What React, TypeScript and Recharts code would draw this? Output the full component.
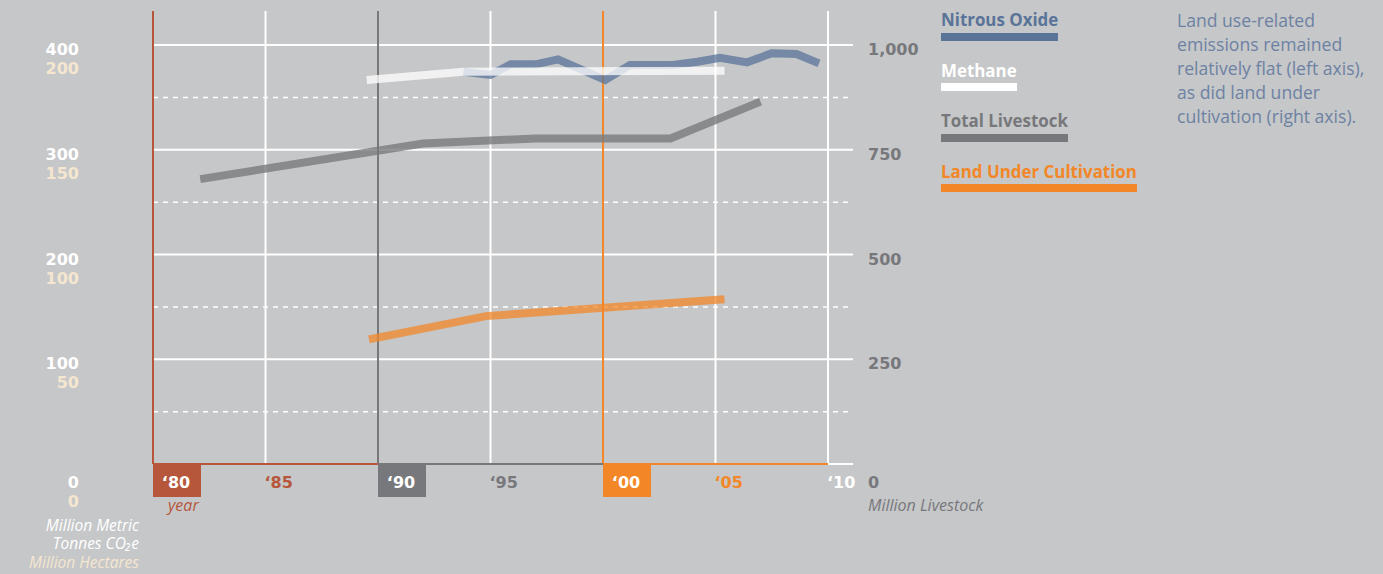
import React from 'react';
import { LineChart, Line, XAxis, YAxis, ReferenceLine, Legend } from 'recharts';

// ---------- data ----------
const yearTicks = [1980, 1985, 1990, 1995, 2000, 2005, 2010];
const leftTicks = [0, 100, 200, 300, 400];
const rightTicks = [0, 250, 500, 750, 1000];
const solidGrid = [100, 200, 300, 400];
const dashedGrid = [50, 150, 250, 350];

const nitrousYears = [1993.8, 1995, 1995.9, 1997, 1998, 2000.1, 2001.2, 2003.1, 2004.2, 2005.2, 2006.4, 2007.5, 2008.6, 2009.6];
const nitrousValues = [374.5, 371.4, 381.6, 381.6, 386.3, 366.6, 381, 381, 384, 387.9, 383.5, 392.1, 391.4, 382.5];

const methaneYears = [1989.5, 1993.8, 2005.4];
const methaneValues = [366.6, 374.5, 375.5];

const livestockYears = [1982.1, 1992, 1997, 2003, 2007];
const livestockValues = [680, 765, 777, 777, 865];

const landYears = [1989.6, 1994.8, 2005.4];
const landValues = [59.5, 70.6, 78.6];

const seriesNames = ['Nitrous Oxide', 'Methane', 'Total Livestock', 'Land Under Cultivation'];
const axisTitlesLeft = ['Million Metric', 'Tonnes CO\u2082e', 'Million Hectares'];
const noteLines = [
  'Land use-related',
  'emissions remained',
  'relatively flat (left axis),',
  'as did land under',
  'cultivation (right axis).',
];

// ---------- style ----------
const BG = '#c6c7c9';
const RED = '#b6573c';
const GRAY = '#77787b';
const ORANGE = '#f38727';
const BLUE = '#5a7499';
const CREAM = '#f5e6d0';
const NUM_FONT = '"DejaVu Sans", sans-serif';
const TXT_FONT = '"Open Sans", sans-serif';

const yearColors = [RED, RED, GRAY, GRAY, ORANGE, ORANGE, '#ffffff'];
const yearBoxed = [true, false, true, false, true, false, false];
const verticalColors = [RED, '#ffffff', GRAY, '#ffffff', ORANGE, '#ffffff', '#ffffff'];
const leftTitleColors = ['#ffffff', '#ffffff', CREAM];

const zip = (xs: number[], vs: number[]) => xs.map((year, i) => ({ year, v: vs[i] }));
const nitrousData = zip(nitrousYears, nitrousValues);
const methaneData = zip(methaneYears, methaneValues);
const livestockData = zip(livestockYears, livestockValues);
const landData = zip(landYears, landValues);

const LeftTick = (props: any) => {
  const { x, y, payload } = props;
  const v = payload.value as number;
  const shift = v === 0 ? 14 : 0;
  return (
    <g fontFamily={NUM_FONT} fontWeight={700} fontSize={16} textAnchor="end">
      <text x={x} y={y + 10 + shift} fill="#ffffff">{v}</text>
      <text x={x} y={y + 29 + shift} fill={CREAM}>{v / 2}</text>
    </g>
  );
};

const RightTick = (props: any) => {
  const { x, y, payload } = props;
  const v = payload.value as number;
  const shift = v === 0 ? 14 : 0;
  return (
    <text x={x} y={y + 10 + shift} fill={GRAY} fontFamily={NUM_FONT} fontWeight={700} fontSize={16} textAnchor="start">
      {v.toLocaleString('en-US')}
    </text>
  );
};

const YearTick = (props: any) => {
  const { x, y, payload } = props;
  const v = payload.value as number;
  const i = yearTicks.indexOf(v);
  const label = '\u2018' + String(v).slice(2);
  if (yearBoxed[i]) {
    return (
      <g>
        <rect x={x} y={y} width={48} height={33} fill={yearColors[i]} />
        <text x={x + 23} y={y + 24} fill="#ffffff" fontFamily={NUM_FONT} fontWeight={700} fontSize={16} textAnchor="middle">{label}</text>
      </g>
    );
  }
  return (
    <text x={x - 1} y={y + 24} fill={yearColors[i]} fontFamily={NUM_FONT} fontWeight={700} fontSize={16} textAnchor="start">{label}</text>
  );
};

const LegendContent = (props: any) => {
  const payload = [...(props.payload || [])].sort(
    (a: any, b: any) => seriesNames.indexOf(a.value) - seriesNames.indexOf(b.value)
  );
  return (
    <div style={{ position: 'relative', width: 300, height: 200 }}>
      {payload.map((p: any, i: number) => (
        <div key={p.value} style={{ position: 'absolute', left: 0, top: 11 + i * 50.6 }}>
          <div style={{ fontFamily: TXT_FONT, fontWeight: 700, fontSize: 16.9, lineHeight: '17px', color: p.color, whiteSpace: 'nowrap' }}>
            {p.value}
          </div>
          <div style={{ marginTop: 4.5, height: 8, background: p.color }} />
        </div>
      ))}
    </div>
  );
};

export default function App() {
  return (
    <div style={{ position: 'absolute', left: 0, top: 0, width: 1383, height: 574, background: BG, overflow: 'hidden' }}>
      <LineChart width={1383} height={574} margin={{ top: 11, right: 0, bottom: 0, left: 0 }}>
        <XAxis
          dataKey="year"
          type="number"
          domain={[1980, 2011.111]}
          ticks={yearTicks}
          interval={0}
          height={110}
          axisLine={false}
          tickLine={false}
          tickSize={0}
          tickMargin={0}
          tick={<YearTick />}
          allowDataOverflow
        />
        <YAxis
          yAxisId="left"
          orientation="left"
          width={153}
          domain={[0, 432.5]}
          ticks={leftTicks}
          interval={0}
          axisLine={false}
          tickLine={false}
          tickSize={0}
          tickMargin={14}
          tick={<LeftTick />}
          allowDataOverflow
        />
        <YAxis
          yAxisId="right"
          orientation="right"
          width={530}
          domain={[0, 1081.25]}
          ticks={rightTicks}
          interval={0}
          axisLine={false}
          tickLine={false}
          tickSize={0}
          tickMargin={15}
          tick={<RightTick />}
          allowDataOverflow
        />
        <YAxis yAxisId="land" hide domain={[0, 216.25]} allowDataOverflow />

        {solidGrid.map((v) => (
          <ReferenceLine key={'s' + v} yAxisId="left" y={v} stroke="#ffffff" strokeWidth={2} />
        ))}
        {dashedGrid.map((v) => (
          <ReferenceLine key={'d' + v} yAxisId="left" y={v} stroke="#ffffff" strokeWidth={1.5} strokeDasharray="5 5" />
        ))}
        {yearTicks.map((yr, i) => (
          <ReferenceLine key={'v' + yr} yAxisId="left" x={yr} stroke={verticalColors[i]} strokeWidth={2} />
        ))}
        <ReferenceLine yAxisId="left" segment={[{ x: 1980, y: 0 }, { x: 1990, y: 0 }]} stroke={RED} strokeWidth={2} />
        <ReferenceLine yAxisId="left" segment={[{ x: 1990, y: 0 }, { x: 2000, y: 0 }]} stroke={GRAY} strokeWidth={2} />
        <ReferenceLine yAxisId="left" segment={[{ x: 2000, y: 0 }, { x: 2010, y: 0 }]} stroke={ORANGE} strokeWidth={2} />
        <ReferenceLine yAxisId="left" segment={[{ x: 2010, y: 0 }, { x: 2011.111, y: 0 }]} stroke="#ffffff" strokeWidth={2} />

        <Line data={nitrousData} yAxisId="left" dataKey="v" name={seriesNames[0]} stroke={BLUE} strokeWidth={8} strokeOpacity={0.75} dot={false} activeDot={false} isAnimationActive={false} type="linear" />
        <Line data={methaneData} yAxisId="left" dataKey="v" name={seriesNames[1]} stroke="#ffffff" strokeWidth={8} strokeOpacity={0.75} dot={false} activeDot={false} isAnimationActive={false} type="linear" />
        <Line data={livestockData} yAxisId="right" dataKey="v" name={seriesNames[2]} stroke={GRAY} strokeWidth={8} strokeOpacity={0.78} dot={false} activeDot={false} isAnimationActive={false} type="linear" />
        <Line data={landData} yAxisId="land" dataKey="v" name={seriesNames[3]} stroke={ORANGE} strokeWidth={8} strokeOpacity={0.75} dot={false} activeDot={false} isAnimationActive={false} type="linear" />

        <Legend
          layout="vertical"
          align="center"
          verticalAlign="middle"
          content={<LegendContent />}
          wrapperStyle={{ position: 'absolute', left: 941, top: 0, width: 300, height: 200 }}
        />
      </LineChart>

      <svg width={1383} height={574} style={{ position: 'absolute', left: 0, top: 0, pointerEvents: 'none' }}>
        <g fontFamily={TXT_FONT} fontStyle="italic" fontSize={15.5}>
          {axisTitlesLeft.map((t, i) => (
            <text key={t} x={139} y={530.5 + i * 18.7} textAnchor="end" fill={leftTitleColors[i]}>{t}</text>
          ))}
          <text x={168} y={511} fill={RED} fontSize={16}>year</text>
          <text x={868} y={511} fill={GRAY} fontSize={16}>Million Livestock</text>
        </g>
      </svg>

      <div style={{ position: 'absolute', left: 1177, top: 7.5, fontFamily: TXT_FONT, fontSize: 17.6, lineHeight: '24px', color: '#6d82a3', whiteSpace: 'nowrap' }}>
        {noteLines.map((l) => (
          <div key={l}>{l}</div>
        ))}
      </div>
    </div>
  );
}
